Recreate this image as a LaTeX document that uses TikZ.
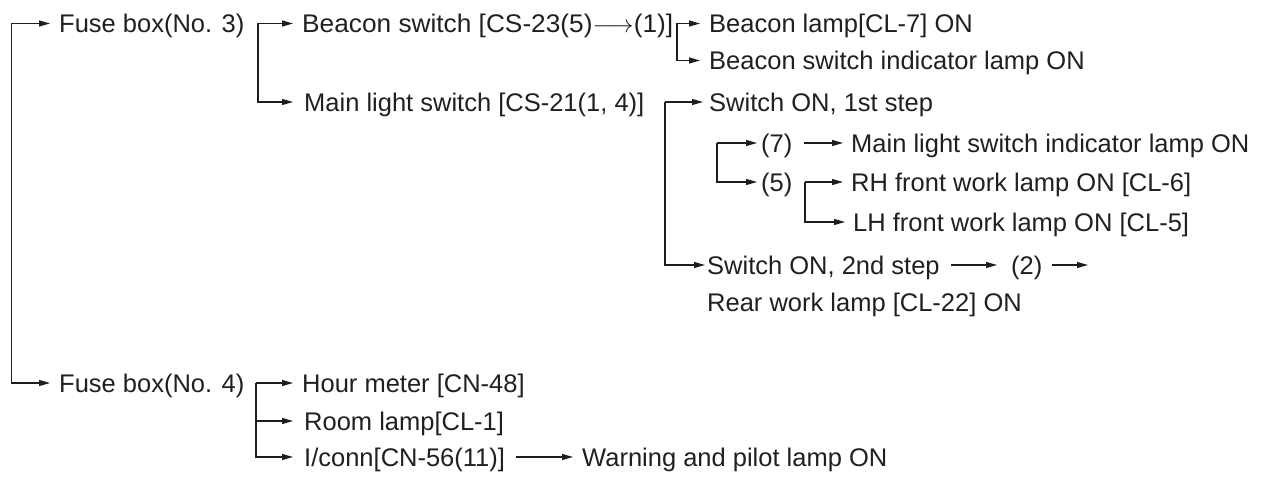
\documentclass[tikz,border=0pt]{standalone}
\usepackage{fontspec}
\setmainfont{Liberation Sans}
\usetikzlibrary{arrows.meta}
\definecolor{txt}{RGB}{35,31,32}
\definecolor{lnc}{RGB}{30,30,30}
\newcommand{\bigfnt}{\fontsize{25.5pt}{30pt}\selectfont}
\tikzset{
  lbl/.style={anchor=base west, inner xsep=#1, inner ysep=0pt, text=txt, font=\bigfnt},
  lbl/.default=9pt,
  arr/.style={draw=lnc, line width=1.1pt, -{Triangle[length=11pt,width=6pt]}},
}
\begin{document}
\begin{tikzpicture}[x=1pt,y=-1pt]
\useasboundingbox (0,0) rectangle (1263,478);
% nodes (x = arrow tip, y = baseline)
\node[lbl] (fb3) at (50,33) {Fuse box(No. 3)};
\node[lbl] (bsw) at (293,33) {\resizebox{371pt}{\height}{Beacon switch [CS-23(5)\(\longrightarrow\)(1)]}};
\node[lbl] (blamp) at (700,33) {Beacon lamp[CL-7] ON};
\node[lbl] (bind) at (700,70) {Beacon switch indicator lamp ON};
\node[lbl=11pt] (mls) at (293,111.5) {Main light switch [CS-21(1, 4)]};
\node[lbl=6pt] (s1) at (703,111.5) {Switch ON, 1st step};
\node[lbl=4pt] (p7) at (757,152.5) {(7)};
\node[lbl=8pt] (mlind) at (843,152.5) {Main light switch indicator lamp ON};
\node[lbl=4pt] (p5) at (757,191.5) {(5)};
\node[lbl=8pt] (rh) at (843,191.5) {RH front work lamp ON [CL-6]};
\node[lbl=8pt] (lh) at (845,231.5) {LH front work lamp ON [CL-5]};
\node[lbl=2pt] (s2) at (705,274.5) {Switch ON, 2nd step};
\node[lbl=14pt] (p2) at (997,274.5) {(2)};
\node[lbl=0pt] (rear) at (707,312) {Rear work lamp [CL-22] ON};
\node[lbl] (fb4) at (50,392.5) {Fuse box(No. 4)};
\node[lbl] (hour) at (293,392.5) {Hour meter [CN-48]};
\node[lbl=11pt] (room) at (293,430.5) {Room lamp[CL-1]};
\node[lbl=11pt] (iconn) at (293,466.5) {I/conn[CN-56(11)]};
\node[lbl] (warn) at (573,466.5) {Warning and pilot lamp ON};
% bracket roots
\coordinate (k0) at (11.5,23.5);
\coordinate (k1) at (258,23.5);
\coordinate (k2) at (677,23.5);
\coordinate (k3) at (665,102);
\coordinate (k4) at (717,143);
\coordinate (k5) at (805,182);
\coordinate (k6) at (256,383);
\coordinate (e2) at (1088,265);
% connectors
\draw[arr] (k0) -- ([yshift=9.5pt]fb3.base west);
\draw[arr] (k0) |- ([yshift=9.5pt]fb4.base west);
\draw[arr] (k1) -- ([yshift=9.5pt]bsw.base west);
\draw[arr] (k1) |- ([yshift=9.5pt]mls.base west);
\draw[arr] (k2) -- ([yshift=9.5pt]blamp.base west);
\draw[arr] (k2) |- ([yshift=9.5pt]bind.base west);
\draw[arr] (k3) -- ([yshift=9.5pt]s1.base west);
\draw[arr] (k3) |- ([yshift=9.5pt]s2.base west);
\draw[arr] (k4) -- ([yshift=9.5pt]p7.base west);
\draw[arr] (k4) |- ([yshift=9.5pt]p5.base west);
\draw[arr] ([xshift=7pt,yshift=9.5pt]p7.base east) -- ([yshift=9.5pt]mlind.base west);
\draw[arr] (k5) -- ([yshift=9.5pt]rh.base west);
\draw[arr] (k5) |- ([yshift=9.5pt]lh.base west);
\draw[arr] ([xshift=9pt,yshift=9.5pt]s2.base east) -- ([yshift=9.5pt]p2.base west);
\draw[arr] ([xshift=-5pt,yshift=9.5pt]p2.base east) -- (e2);
\draw[arr] (k6) -- ([yshift=9.5pt]hour.base west);
\draw[arr] (k6) |- ([yshift=9.5pt]room.base west);
\draw[arr] (k6) |- ([yshift=9.5pt]iconn.base west);
\draw[arr] ([yshift=9.5pt]iconn.base east) -- ([yshift=9.5pt]warn.base west);
\end{tikzpicture}
\end{document}
